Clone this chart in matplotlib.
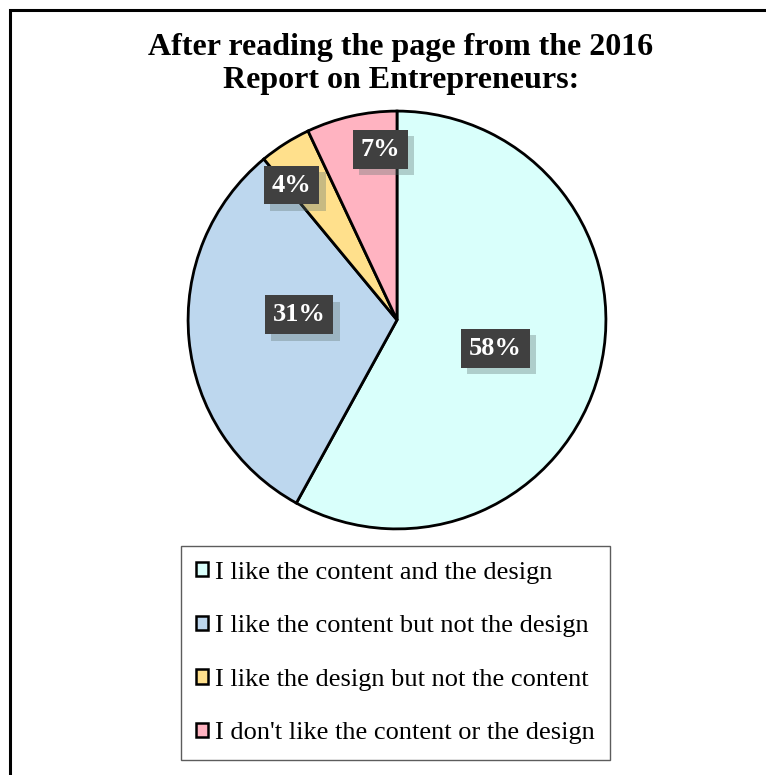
import numpy as np
import matplotlib.pyplot as plt
from matplotlib.patches import Patch, Rectangle
import matplotlib.patheffects as pe

plt.rcParams['font.family'] = ['Liberation Serif', 'DejaVu Serif']

# survey answers
categories = ['I like the content and the design',
              'I like the content but not the design',
              'I like the design but not the content',
              "I don't like the content or the design"]
shares = [58, 31, 4, 7]
colors = ['#D9FFFB', '#BDD7EE', '#FFE08C', '#FFB3C1']
# where each percentage box sits: fraction of radius, nudge from mid-angle (deg)
label_radius = [0.49, 0.47, 0.82, 0.82]
label_nudge = [-1.6, -8.4, 5.6, -7.0]

fig = plt.figure(figsize=(7.66, 7.75), dpi=100)
W, H = 766, 775

# frame around the chart (runs off the right and bottom edges)
fig.patches.append(Rectangle((9.5 / W, -20 / H), 800 / W, (775 - 9.5 + 20) / H,
                             transform=fig.transFigure, fill=False,
                             edgecolor='black', linewidth=2.2))

fig.text(401 / W, 1 - 64 / H, 'After reading the page from the 2016\nReport on Entrepreneurs:',
         ha='center', va='center', fontsize=23, fontweight='bold', linespacing=1.18)

cx, cy, r = 397, 320, 211
ax = fig.add_axes([(cx - r) / W, 1 - (cy + r) / H, 2 * r / W, 2 * r / H])
wedges, _ = ax.pie(shares, colors=colors, startangle=90, counterclock=False,
                   wedgeprops=dict(edgecolor='black', linewidth=2))
ax.set_xlim(-1.01, 1.01)
ax.set_ylim(-1.01, 1.01)
ax.set_aspect('equal')

# percentage labels in dark boxes with a drop shadow
total = sum(shares)
start = 90.0
for val, rad, nudge in zip(shares, label_radius, label_nudge):
    sweep = val / total * 360
    mid = np.deg2rad(start - sweep / 2 + nudge)
    start -= sweep
    x, y = rad * np.cos(mid), rad * np.sin(mid)
    t = ax.text(x, y, f'{val}%', ha='center', va='center', fontsize=19,
                fontweight='bold', color='white',
                bbox=dict(boxstyle='square,pad=0.3', facecolor='#404040', edgecolor='none'))
    t.get_bbox_patch().set_path_effects([
        pe.SimplePatchShadow(offset=(4.5, -4.5), shadow_rgbFace='#5f7472', alpha=0.35),
        pe.Normal()])

handles = [Patch(facecolor=c, edgecolor='black', linewidth=1.8) for c in colors]
leg = fig.legend(handles, categories, loc='center', bbox_to_anchor=(395.5 / W, 1 - 653 / H),
                 fontsize=19, frameon=True, fancybox=False, edgecolor='#333333',
                 handlelength=0.45, handleheight=0.45, handletextpad=0.25,
                 labelspacing=1.2, borderpad=0.6, borderaxespad=0)
leg.get_frame().set_linewidth(1.0)

fig.savefig('out.png', dpi=100)
